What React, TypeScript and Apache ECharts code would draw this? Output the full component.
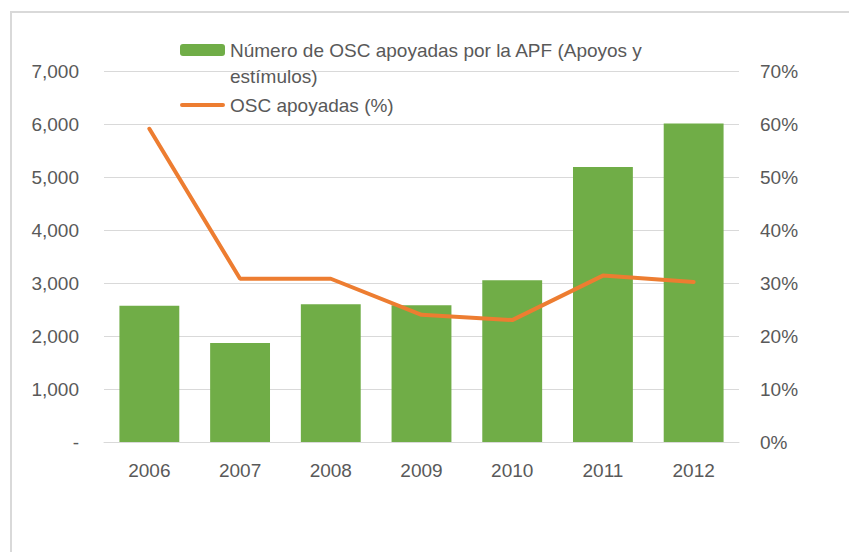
import React, { useEffect, useRef } from "react";
import * as echarts from "echarts";

const years = ["2006", "2007", "2008", "2009", "2010", "2011", "2012"];
const oscCount = [2570, 1870, 2600, 2580, 3050, 5190, 6010];
const oscPct = [59.1, 30.8, 30.8, 24.0, 23.0, 31.4, 30.2];
const barName = "Número de OSC apoyadas por la APF (Apoyos y estímulos)";
const barLines = ["Número de OSC apoyadas por la APF (Apoyos y", "estímulos)"];
const lineName = "OSC apoyadas (%)";

const FONT = "Liberation Sans, Arial, sans-serif";
const TEXT = "#595959";
const FS = 19;
const LINE_ICON =
  "path://M0,0L45,0L45,0.01L0,0.01Z M2,4L43,4A2,2 0 0 1 43,8L2,8A2,2 0 0 1 2,4Z M0,11.99L45,11.99L45,12L0,12Z";

export default function App() {
  const ref = useRef<HTMLDivElement>(null);
  useEffect(() => {
    if (!ref.current) return;
    const chart = echarts.init(ref.current, null, { renderer: "svg" });
    chart.setOption({
      animation: false,
      backgroundColor: "#ffffff",
      textStyle: { fontFamily: FONT },
      graphic: [
        {
          type: "rect",
          shape: { x: 11, y: 12, width: 900, height: 600 },
          style: { fill: "none", stroke: "#D9D9D9", lineWidth: 2 },
          silent: true,
        },
      ],
      legend: {
        orient: "vertical",
        left: 180,
        top: 11,
        padding: 0,
        itemWidth: 45,
        itemHeight: 12,
        itemGap: 3,
        formatter: (name: string) =>
          name === barName
            ? "{s| }\n{a|" + barLines[0] + "}\n{a|" + barLines[1] + "}"
            : "{a|" + name + "}",
        textStyle: {
          color: TEXT,
          fontSize: FS,
          lineHeight: 26,
          fontFamily: FONT,
          rich: {
            a: { color: TEXT, fontSize: FS, lineHeight: 26, fontFamily: FONT },
            s: { fontSize: FS, lineHeight: 26, height: 26 },
          },
        },
        data: [
          { name: barName },
          {
            name: lineName,
            icon: LINE_ICON,
            itemStyle: { color: "#ED7D31" },
          },
        ],
      },
      grid: { left: 104, right: 110, top: 71, bottom: 110 },
      xAxis: {
        type: "category",
        data: years,
        axisLine: { show: true, lineStyle: { color: "#D9D9D9", width: 1 } },
        axisTick: { show: false },
        axisLabel: { color: TEXT, fontSize: FS, margin: 19, fontFamily: FONT },
      },
      yAxis: [
        {
          type: "value",
          min: 0,
          max: 7000,
          interval: 1000,
          axisLine: { show: false },
          axisTick: { show: false },
          splitLine: { lineStyle: { color: "#D9D9D9", width: 1 } },
          axisLabel: {
            color: TEXT,
            fontSize: FS,
            margin: 25,
            fontFamily: FONT,
            formatter: (v: number) => (v === 0 ? "-" : v.toLocaleString("en-US")),
          },
        },
        {
          type: "value",
          min: 0,
          max: 70,
          interval: 10,
          position: "right",
          axisLine: { show: false },
          axisTick: { show: false },
          splitLine: { show: false },
          axisLabel: {
            color: TEXT,
            fontSize: FS,
            margin: 21,
            fontFamily: FONT,
            formatter: (v: number) => v + "%",
          },
        },
      ],
      series: [
        {
          name: barName,
          type: "bar",
          data: oscCount,
          yAxisIndex: 0,
          barCategoryGap: "34%",
          itemStyle: { color: "#70AD47" },
        },
        {
          name: lineName,
          type: "line",
          data: oscPct,
          yAxisIndex: 1,
          symbol: "none",
          lineStyle: { color: "#ED7D31", width: 4, cap: "round" },
          itemStyle: { color: "#ED7D31" },
        },
      ],
    });
    return () => chart.dispose();
  }, []);
  return (
    <div
      ref={ref}
      style={{ position: "fixed", left: 0, top: 0, width: 849, height: 552 }}
    />
  );
}
